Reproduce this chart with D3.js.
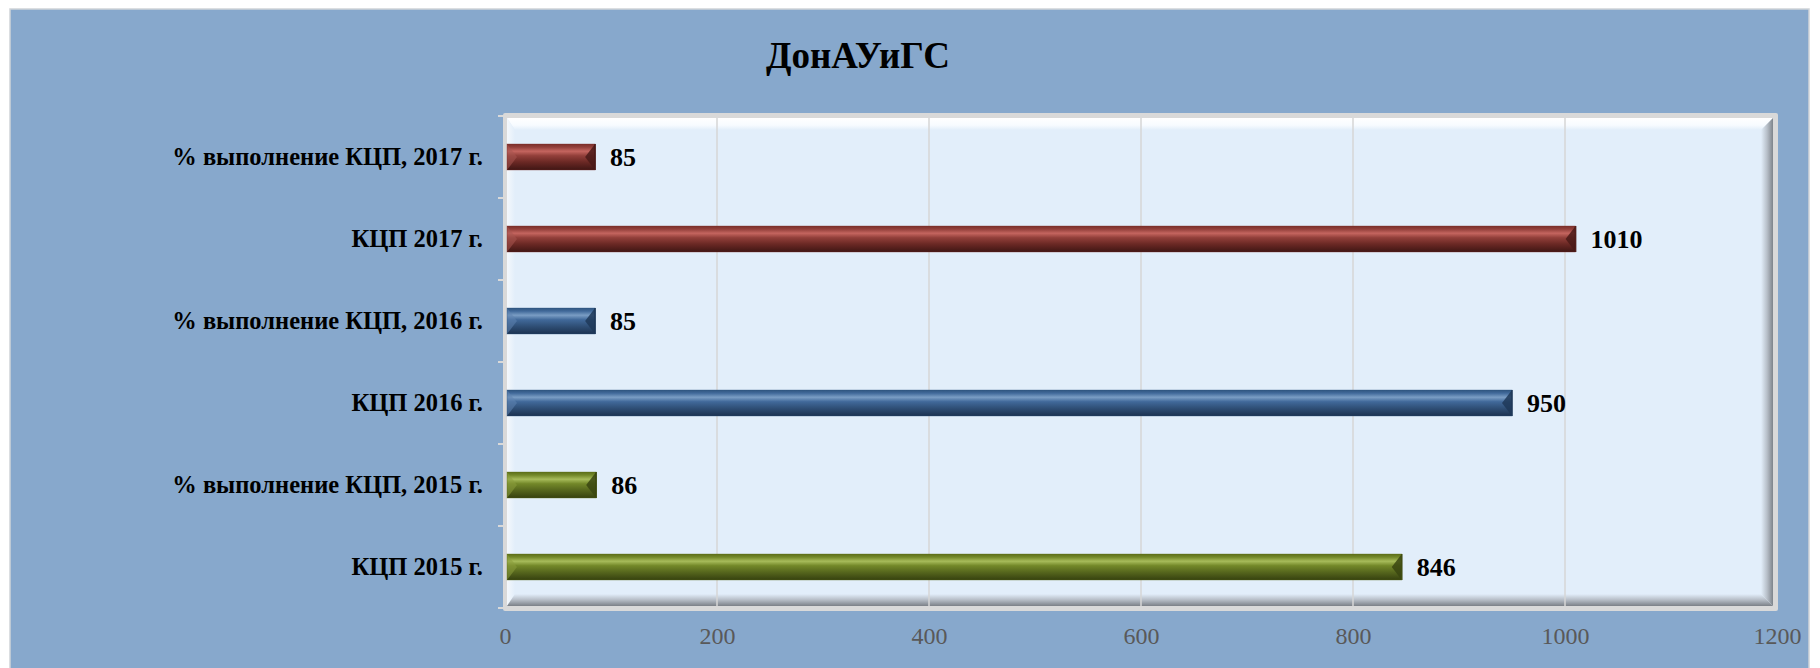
<!DOCTYPE html>
<html>
<head>
<meta charset="utf-8">
<script src="https://cdn.jsdelivr.net/npm/d3@7"></script>
<style>
html,body{margin:0;padding:0;background:#fff;}
svg{display:block;}
</style>
</head>
<body>
<svg id="chart" width="1820" height="668"></svg>
<script>
const categories = [
  "% выполнение КЦП, 2017 г.",
  "КЦП 2017 г.",
  "% выполнение КЦП, 2016 г.",
  "КЦП 2016 г.",
  "% выполнение КЦП, 2015 г.",
  "КЦП 2015 г."
];
const values = [85, 1010, 85, 950, 86, 846];
const colorGroup = ["red", "red", "blue", "blue", "green", "green"];
const xTicks = [0, 200, 400, 600, 800, 1000, 1200];
const title = "ДонАУиГС";

const palette = {
  red:   {top:"#7b2f2b", hi:"#c4655f", mid:"#923f3a", low:"#6a2824", bot:"#3f1614", capL:"#a85550", capR:"#4a1a18"},
  blue:  {top:"#2f557f", hi:"#7a9dc4", mid:"#41699a", low:"#2f4f76", bot:"#1c3250", capL:"#5f84b0", capR:"#1f3858"},
  green: {top:"#5d6e1a", hi:"#a7bb5a", mid:"#738829", low:"#56661d", bot:"#36410f", capL:"#8a9d3c", capR:"#3a4510"}
};

const svg = d3.select("#chart");
const defs = svg.append("defs");

// Outer background
svg.append("rect").attr("x", 10).attr("y", 9).attr("width", 1799).attr("height", 665)
  .attr("fill", "#87a8cc").attr("stroke", "#cfd3d8").attr("stroke-width", 1.5);

// Title
svg.append("text").attr("x", 858).attr("y", 68).attr("text-anchor", "middle")
  .attr("font-family", "'Liberation Serif', 'Times New Roman', serif")
  .attr("font-weight", "bold").attr("font-size", 37).attr("fill", "#000")
  .text(title);

const x = d3.scaleLinear().domain([0, 1200]).range([505, 1777]);
const y = d3.scaleBand().domain(categories).range([116, 608])
  .paddingInner(0.683).paddingOuter(0.3415);

// plot frame
const fx0 = 503, fx1 = 1778, fy0 = 113, fy1 = 611;
const ix0 = 507, ix1 = 1773, iy0 = 118, iy1 = 606;
svg.append("rect").attr("x", fx0).attr("y", fy0).attr("width", fx1 - fx0).attr("height", fy1 - fy0)
  .attr("fill", "#d9d9d9").attr("rx", 2);
const bg = "#e2eefa";
svg.append("rect").attr("x", ix0).attr("y", iy0).attr("width", ix1 - ix0).attr("height", iy1 - iy0).attr("fill", bg);

function grad(id, x1, y1, x2, y2, stops) {
  const g = defs.append("linearGradient").attr("id", id)
    .attr("x1", x1).attr("y1", y1).attr("x2", x2).attr("y2", y2);
  stops.forEach(s => g.append("stop").attr("offset", s[0]).attr("stop-color", s[1]));
}
const bw = 12;
grad("bevTop", 0, 0, 0, 1, [[0, "#ffffff"], [0.6, "#f7fbff"], [1, bg]]);
grad("bevLeft", 0, 0, 1, 0, [[0, "#f4f8fc"], [1, bg]]);
grad("bevRight", 0, 0, 1, 0, [[0, bg], [0.5, "#b8c0c9"], [1, "#7e848b"]]);
grad("bevBot", 0, 0, 0, 1, [[0, bg], [0.5, "#b5bcc5"], [1, "#7b8087"]]);

svg.append("polygon").attr("fill", "url(#bevTop)")
  .attr("points", [[ix0, iy0], [ix1, iy0], [ix1 - bw, iy0 + bw], [ix0 + 8, iy0 + bw]].join(" "));
svg.append("polygon").attr("fill", "url(#bevLeft)")
  .attr("points", [[ix0, iy0], [ix0 + 8, iy0 + bw], [ix0 + 8, iy1 - bw], [ix0, iy1]].join(" "));
svg.append("polygon").attr("fill", "url(#bevRight)")
  .attr("points", [[ix1, iy0], [ix1, iy1], [ix1 - bw, iy1 - bw], [ix1 - bw, iy0 + bw]].join(" "));
svg.append("polygon").attr("fill", "url(#bevBot)")
  .attr("points", [[ix0, iy1], [ix0 + 8, iy1 - bw], [ix1 - bw, iy1 - bw], [ix1, iy1]].join(" "));

// gridlines
svg.append("g").selectAll("line").data(xTicks.filter(d => d > 0 && d < 1200)).join("line")
  .attr("x1", d => x(d)).attr("x2", d => x(d))
  .attr("y1", iy0).attr("y2", iy1)
  .attr("stroke", "#d6d6d6").attr("stroke-width", 1.5);

// category tick marks on the left
const bounds = categories.map(c => y(c) - y.step() * y.paddingInner() / 2).concat([608]);
svg.append("g").selectAll("line").data(bounds).join("line")
  .attr("x1", 498).attr("x2", fx0).attr("y1", d => d).attr("y2", d => d)
  .attr("stroke", "#d9d9d9").attr("stroke-width", 2);

// bars
const data = categories.map((c, i) => ({c, v: values[i], g: colorGroup[i]}));
Object.keys(palette).forEach(k => {
  const p = palette[k];
  grad("bar-" + k, 0, 0, 0, 1, [[0, p.top], [0.12, p.mid], [0.28, p.hi], [0.45, p.mid], [0.7, p.low], [1, p.bot]]);
});
const bars = svg.append("g");
const cap = 10;
data.forEach(d => {
  const x0 = x(0) + 2, x1 = x(d.v), y0 = y(d.c), h = y.bandwidth(), y1 = y0 + h;
  const p = palette[d.g];
  bars.append("rect").attr("x", x0).attr("y", y0).attr("width", x1 - x0).attr("height", h)
    .attr("fill", "url(#bar-" + d.g + ")");
  bars.append("polygon").attr("fill", p.capL).attr("opacity", 0.55)
    .attr("points", [[x0, y0], [x0 + cap, y0 + h / 2], [x0, y1]].join(" "));
  bars.append("polygon").attr("fill", p.capR).attr("opacity", 0.85)
    .attr("points", [[x1, y0], [x1 - cap, y0 + h / 2], [x1, y1]].join(" "));
  bars.append("line").attr("x1", x1).attr("x2", x1).attr("y1", y0).attr("y2", y1)
    .attr("stroke", p.bot).attr("stroke-width", 1.5);
  bars.append("rect").attr("x", x0).attr("y", y0).attr("width", x1 - x0).attr("height", h)
    .attr("fill", "none").attr("stroke", p.top).attr("stroke-width", 0.6).attr("opacity", 0.6);
});

// value labels
svg.append("g").selectAll("text").data(data).join("text")
  .attr("x", d => x(d.v) + 15)
  .attr("y", d => y(d.c) + y.bandwidth() / 2 + 9)
  .attr("font-family", "'Liberation Serif', 'Times New Roman', serif")
  .attr("font-weight", "bold").attr("font-size", 26).attr("fill", "#000")
  .text(d => d.v);

// category labels
svg.append("g").selectAll("text").data(categories).join("text")
  .attr("x", 483)
  .attr("y", d => y(d) + y.bandwidth() / 2 + 8)
  .attr("text-anchor", "end")
  .attr("font-family", "'Liberation Serif', 'Times New Roman', serif")
  .attr("font-weight", "bold").attr("font-size", 24.5).attr("fill", "#000")
  .text(d => d);

// x axis tick labels
const xAxis = d3.axisBottom(x).tickValues(xTicks).tickFormat(d3.format("d")).tickSize(0).tickPadding(0);
const ax = svg.append("g").attr("transform", "translate(0,626)").call(xAxis);
ax.select(".domain").remove();
ax.selectAll("text")
  .attr("font-family", "'Liberation Serif', 'Times New Roman', serif")
  .attr("font-size", 24).attr("fill", "#595959").attr("dy", "0.75em");
</script>
</body>
</html>
